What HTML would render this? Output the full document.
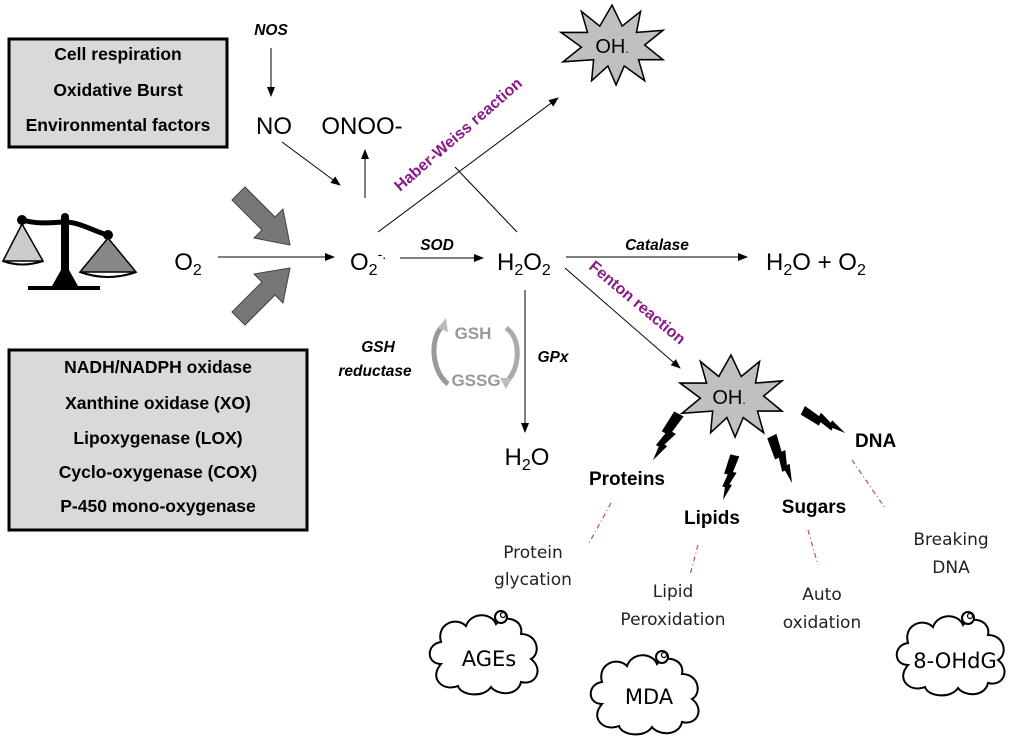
<!DOCTYPE html>
<html><head><meta charset="utf-8"><style>
html,body{margin:0;padding:0;background:#fff;}
svg{display:block;font-family:"Liberation Sans",Arial,sans-serif;}
.b{font-weight:bold;font-size:17.5px;}
.bi{font-weight:bold;font-style:italic;font-size:15.5px;}
.big{font-size:24px;}
.c{font-family:"DejaVu Sans","Liberation Sans",sans-serif;font-size:17px;fill:#222;}
.lb{font-weight:bold;font-size:19px;}
</style></head><body>
<svg width="1024" height="752" viewBox="0 0 1024 752" xmlns="http://www.w3.org/2000/svg">
<defs>
<marker id="a" markerWidth="10" markerHeight="10" refX="9" refY="5" orient="auto" markerUnits="userSpaceOnUse"><path d="M0,1 L10,5 L0,9 z" fill="#000"/></marker>
<path id="bolt" d="M-3,0 L7,0 L4,18 L8,18 L3,32 L6,32 L0,50 L-1,36 L-4,36 L-1,22 L-5,22 z" fill="#000"/>
<g id="cloud"><path d="M-45,10 C-60,10 -60,-10 -45,-12 C-50,-30 -30,-38 -20,-28 C-15,-42 5,-42 10,-30 C18,-40 38,-35 35,-20 C52,-20 55,0 45,5 C58,15 50,32 35,28 C32,42 12,42 5,33 C-2,44 -25,42 -28,32 C-42,38 -58,25 -45,10 z" fill="#fff" stroke="#000" stroke-width="2"/><circle cx="15" cy="-37" r="6" fill="#fff" stroke="#000" stroke-width="2"/><circle cx="17" cy="-39" r="2.5" fill="none" stroke="#000" stroke-width="1.2"/></g>
<g id="star"><path d="M0,-38 L10,-18 L28,-32 L24,-12 L50,-14 L32,0 L50,14 L26,14 L32,34 L12,20 L4,38 L-4,20 L-20,34 L-18,14 L-48,16 L-30,2 L-50,-12 L-24,-12 L-30,-32 L-12,-18 z" fill="#c0c0c0" stroke="#000" stroke-width="1.5"/></g>
</defs>

<rect x="9" y="39" width="218" height="108" fill="#d9d9d9" stroke="#000" stroke-width="3"/>
<text class="b" x="118" y="60" text-anchor="middle">Cell respiration</text>
<text class="b" x="118" y="96" text-anchor="middle">Oxidative Burst</text>
<text class="b" x="118" y="131" text-anchor="middle">Environmental factors</text>
<rect x="9" y="350" width="298" height="180" fill="#d9d9d9" stroke="#000" stroke-width="3"/>
<text class="b" x="158" y="373" text-anchor="middle">NADH/NADPH oxidase</text>
<text class="b" x="158" y="409" text-anchor="middle">Xanthine oxidase (XO)</text>
<text class="b" x="158" y="444" text-anchor="middle">Lipoxygenase (LOX)</text>
<text class="b" x="158" y="478" text-anchor="middle">Cyclo-oxygenase (COX)</text>
<text class="b" x="158" y="512" text-anchor="middle">P-450 mono-oxygenase</text>

<g>
<path d="M22,220 C40,225 55,222 65,222 C80,222 95,232 108,235" stroke="#000" stroke-width="5" fill="none"/>
<circle cx="22" cy="220" r="5"/><circle cx="108" cy="235" r="5"/><circle cx="65" cy="217" r="4"/>
<path d="M61,218 L69,218 L69,270 L78,286 L52,286 L61,270z"/>
<rect x="28" y="286" width="72" height="4"/>
<path d="M3,261 L22,224 L43,261 z" fill="#ccc" stroke="#000" stroke-width="1.5"/>
<path d="M3,261 Q22,268 43,261" stroke="#000" stroke-width="2" fill="none"/>
<path d="M80,272 L108,238 L136,272 z" fill="#888" stroke="#000" stroke-width="1.5"/>
<path d="M80,272 Q108,282 136,272" stroke="#000" stroke-width="2" fill="none"/>
</g>

<path d="M232,200 L245,187 L275,217 L283,209 L290,245 L254,238 L262,230 z" fill="#777" stroke="#444"/>
<path d="M232,312 L245,325 L275,295 L283,303 L290,268 L254,274 L262,282 z" fill="#777" stroke="#444"/>

<text class="bi" x="271" y="35" text-anchor="middle">NOS</text>
<line x1="271" y1="48" x2="271" y2="96" stroke="#000" marker-end="url(#a)"/>
<text class="big" x="274" y="134" text-anchor="middle">NO</text>
<text class="big" x="362" y="134" text-anchor="middle">ONOO-</text>
<line x1="282" y1="142" x2="340" y2="185" stroke="#000" marker-end="url(#a)"/>
<line x1="365" y1="198" x2="365" y2="150" stroke="#000" marker-end="url(#a)"/>

<text class="big" x="188" y="270" text-anchor="middle">O<tspan font-size="16" dy="5">2</tspan></text>
<line x1="218" y1="257" x2="334" y2="257" stroke="#000" marker-end="url(#a)"/>
<text class="big" x="350" y="270">O<tspan font-size="16" dy="5">2</tspan><tspan font-size="14" dy="-16">-.</tspan></text>
<line x1="400" y1="258" x2="483" y2="258" stroke="#000" marker-end="url(#a)"/>
<text class="bi" x="437" y="250" text-anchor="middle">SOD</text>
<text class="big" x="497" y="270">H<tspan font-size="16" dy="5">2</tspan><tspan dy="-5">O</tspan><tspan font-size="16" dy="5">2</tspan></text>
<line x1="566" y1="257" x2="747" y2="257" stroke="#000" marker-end="url(#a)"/>
<text class="bi" x="657" y="250" text-anchor="middle">Catalase</text>
<text class="big" x="766" y="270">H<tspan font-size="16" dy="5">2</tspan><tspan dy="-5">O + O</tspan><tspan font-size="16" dy="5">2</tspan></text>

<line x1="378" y1="232" x2="558" y2="98" stroke="#000" marker-end="url(#a)"/>
<line x1="455" y1="167" x2="517" y2="232" stroke="#000"/>
<text x="0" y="0" font-weight="bold" font-size="16" fill="#8b1a89" transform="translate(400,192) rotate(-41)">Haber-Weiss reaction</text>
<use href="#star" transform="translate(612,45) scale(1.02,1.05)"/>
<text x="612" y="53" font-size="20" text-anchor="middle">OH<tspan font-size="12">.</tspan></text>

<line x1="565" y1="268" x2="680" y2="368" stroke="#000" marker-end="url(#a)"/>
<text x="0" y="0" font-weight="bold" font-size="16" fill="#8b1a89" transform="translate(588,268) rotate(40)">Fenton reaction</text>
<use href="#star" transform="translate(731,396) scale(1.02,1.08)"/>
<text x="729" y="404" font-size="20" text-anchor="middle">OH<tspan font-size="12">.</tspan></text>

<line x1="525" y1="290" x2="525" y2="432" stroke="#000" marker-end="url(#a)"/>
<text class="bi" x="553" y="362" text-anchor="middle">GPx</text>
<text class="big" x="527" y="465" text-anchor="middle">H<tspan font-size="16" dy="5">2</tspan><tspan dy="-5">O</tspan></text>
<text class="bi" x="378" y="352" text-anchor="middle" font-size="17">GSH</text>
<text class="bi" x="375" y="376" text-anchor="middle" font-size="17">reductase</text>
<text x="473" y="339" font-size="17" fill="#999" font-weight="bold" text-anchor="middle">GSH</text>
<text x="476" y="386" font-size="17" fill="#999" font-weight="bold" text-anchor="middle">GSSG</text>
<path d="M444,325 C430,335 430,370 448,384" stroke="#999" stroke-width="5" fill="none"/>
<path d="M506,328 C522,338 520,370 506,382" stroke="#aaa" stroke-width="5" fill="none"/>
<path d="M438,328 L446,318 L448,332z" fill="#bbb"/>
<path d="M500,378 L512,378 L506,389z" fill="#bbb"/>

<use href="#bolt" transform="translate(677,413) rotate(27) scale(1.06)"/>
<use href="#bolt" transform="translate(733,455) rotate(12.5) scale(0.92)"/>
<use href="#bolt" transform="translate(770,437) rotate(-25.6) scale(1.02)"/>
<use href="#bolt" transform="translate(802,412) rotate(-64) scale(0.96)"/>

<text class="lb" x="627" y="485" text-anchor="middle">Proteins</text>
<text class="lb" x="712" y="524" text-anchor="middle">Lipids</text>
<text class="lb" x="814" y="513" text-anchor="middle">Sugars</text>
<text class="lb" x="855" y="447">DNA</text>

<g stroke="#c05060" stroke-width="1.2" stroke-dasharray="5,3,1,3" fill="none">
<line x1="611" y1="503" x2="588" y2="545"/>
<line x1="698" y1="545" x2="690" y2="575"/>
<line x1="808" y1="530" x2="818" y2="565"/>
<line x1="852" y1="460" x2="885" y2="508"/>
</g>

<text class="c" x="533" y="558" text-anchor="middle">Protein</text>
<text class="c" x="533" y="585" text-anchor="middle">glycation</text>
<text class="c" x="673" y="597" text-anchor="middle">Lipid</text>
<text class="c" x="673" y="625" text-anchor="middle">Peroxidation</text>
<text class="c" x="822" y="600" text-anchor="middle">Auto</text>
<text class="c" x="822" y="628" text-anchor="middle">oxidation</text>
<text class="c" x="951" y="545" text-anchor="middle">Breaking</text>
<text class="c" x="951" y="573" text-anchor="middle">DNA</text>

<use href="#cloud" transform="translate(486,654)"/>
<text x="489" y="666" font-size="21" text-anchor="middle" font-family="DejaVu Sans,sans-serif">AGEs</text>
<use href="#cloud" transform="translate(647,694)"/>
<text x="649" y="704" font-size="21" text-anchor="middle" font-family="DejaVu Sans,sans-serif">MDA</text>
<use href="#cloud" transform="translate(953,655)"/>
<text x="955" y="668" font-size="21" text-anchor="middle" font-family="DejaVu Sans,sans-serif">8-OHdG</text>
</svg>
</body></html>
